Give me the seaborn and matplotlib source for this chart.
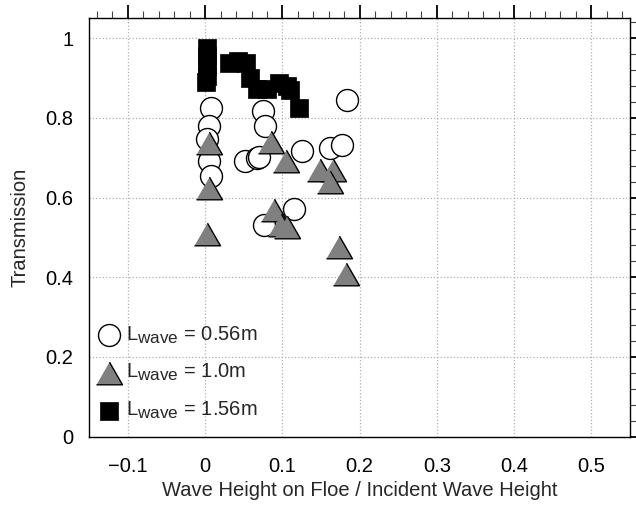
import matplotlib
matplotlib.use("Agg")
import matplotlib.pyplot as plt
import matplotlib._mathtext as mathtext_internal
from matplotlib.ticker import MultipleLocator, FuncFormatter
import seaborn as sns

# L_wave = 0.56 m
circ_x = [0.007, 0.005, 0.002, 0.005, 0.007, 0.075, 0.077, 0.052, 0.067, 0.070,
          0.126, 0.161, 0.177, 0.183, 0.115, 0.076]
circ_y = [0.825, 0.779, 0.747, 0.691, 0.655, 0.817, 0.779, 0.691, 0.699, 0.703,
          0.718, 0.725, 0.733, 0.846, 0.571, 0.532]

# L_wave = 1.0 m
tri_x = [0.005, 0.005, 0.002, 0.085, 0.104, 0.149, 0.166, 0.162, 0.089, 0.098,
         0.106, 0.173, 0.182]
tri_y = [0.738, 0.623, 0.509, 0.739, 0.692, 0.669, 0.669, 0.640, 0.570, 0.530,
         0.527, 0.475, 0.409]

# L_wave = 1.56 m
sq_x = [0.002, 0.002, 0.003, 0.002, 0.001, 0.031, 0.043, 0.053, 0.058, 0.067,
        0.080, 0.096, 0.106, 0.110, 0.121]
sq_y = [0.975, 0.955, 0.930, 0.905, 0.890, 0.938, 0.944, 0.938, 0.900, 0.873,
        0.873, 0.888, 0.879, 0.870, 0.825]

labels = [r"L$_{\mathrm{wave}}$ = 0.56m", r"L$_{\mathrm{wave}}$ = 1.0m",
          r"L$_{\mathrm{wave}}$ = 1.56m"]

# subscripts in the original are nearly full size
mathtext_internal.SHRINK_FACTOR = 0.85

sns.set_style("white")
plt.rcParams["font.family"] = ["Liberation Sans", "DejaVu Sans"]
plt.rcParams["mathtext.fontset"] = "custom"
plt.rcParams["mathtext.rm"] = "Liberation Sans"
plt.rcParams["mathtext.it"] = "Liberation Sans:italic"
plt.rcParams["mathtext.bf"] = "Liberation Sans:bold"

fs = 14.5

fig = plt.figure(figsize=(6.36, 5.08), dpi=100)
ax = fig.add_axes([0.1404, 0.1404, 0.8502, 0.8236])

tri_marker = [(-1, -0.87), (1, -0.87), (0, 0.87)]

sns.scatterplot(x=circ_x, y=circ_y, ax=ax, marker="o", s=250,
                facecolor="white", edgecolor="black", linewidth=1.0,
                label=labels[0], zorder=3)
sns.scatterplot(x=tri_x, y=tri_y, ax=ax, marker=tri_marker, s=350,
                facecolor="#808080", edgecolor="black", linewidth=1.0,
                label=labels[1], zorder=4)
sns.scatterplot(x=sq_x, y=sq_y, ax=ax, marker="s", s=170,
                facecolor="black", edgecolor="black", linewidth=0.5,
                label=labels[2], zorder=5)

ax.set_xlim(-0.15, 0.55)
ax.set_ylim(0, 1.05)
ax.xaxis.set_major_locator(MultipleLocator(0.1))
ax.xaxis.set_minor_locator(MultipleLocator(0.02))
ax.yaxis.set_major_locator(MultipleLocator(0.2))
ax.yaxis.set_minor_locator(MultipleLocator(0.04))
fmt = FuncFormatter(lambda v, p: f"{v:g}".replace("-", "\u2212"))
ax.xaxis.set_major_formatter(fmt)
ax.yaxis.set_major_formatter(fmt)

ax.grid(True, which="major", linestyle=":", color="#b0b0b0", linewidth=0.9)
ax.set_axisbelow(True)
for sp in ax.spines.values():
    sp.set_visible(True)
    sp.set_color("black")
    sp.set_linewidth(1.0)

ax.tick_params(which="both", direction="out", top=True, right=True,
               labeltop=False, labelright=False, labelsize=fs, colors="black")
ax.tick_params(which="major", length=9.5, width=1.3)
ax.tick_params(which="minor", length=5, width=0.8, color="#444444")
ax.tick_params(axis="x", which="major", pad=5)
ax.tick_params(axis="y", which="major", pad=2)

ax.set_xlabel("Wave Height on Floe / Incident Wave Height", fontsize=fs)
ax.set_ylabel("Transmission", fontsize=fs)
ax.xaxis.set_label_coords(0.5, -0.105)
ax.yaxis.set_label_coords(-0.11, 0.5)

ax.legend(loc="lower left", bbox_to_anchor=(0.014, 0.037), frameon=False,
          fontsize=fs, borderpad=0, borderaxespad=0, handlelength=1.2,
          handletextpad=0.25, labelspacing=0.82)

fig.savefig("out.png", dpi=100)
